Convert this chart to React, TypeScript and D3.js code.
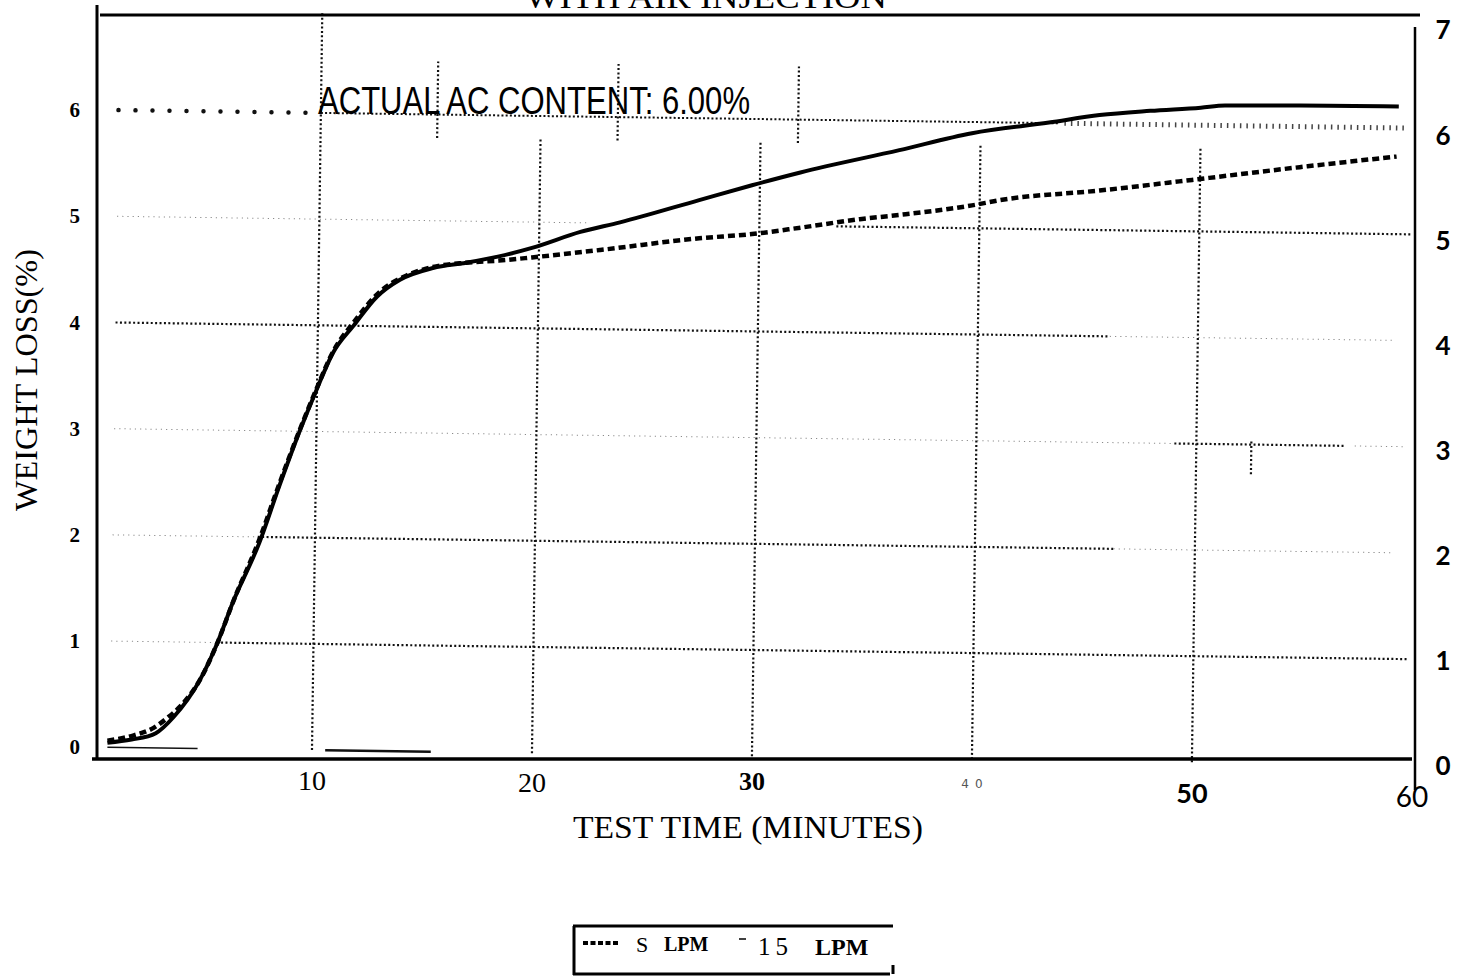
import { useEffect, useRef } from "react";
import * as d3 from "d3";

// Weight loss (%) vs test time (min)
const flow5Lpm: [number, number][] = [
  [0.7, 0.06], [1.9, 0.11], [2.8, 0.18], [3.4, 0.27], [4.0, 0.38], [4.9, 0.63],
  [5.7, 0.98], [6.4, 1.36], [7.6, 1.95], [8.5, 2.47], [9.45, 2.99], [10.2, 3.37],
  [10.95, 3.72], [11.9, 4.0], [13.1, 4.29], [14.3, 4.44], [15.5, 4.52], [17.0, 4.56],
  [18.5, 4.58], [20, 4.61], [23.1, 4.68], [27.6, 4.79], [30, 4.83], [32.2, 4.89],
  [34.9, 4.97], [36.7, 5.01], [40, 5.1], [41.3, 5.15], [45.8, 5.24], [50, 5.34],
  [54.9, 5.46], [59.3, 5.56],
];
const flow15Lpm: [number, number][] = [
  [0.7, 0.04], [1.8, 0.07], [2.9, 0.13], [3.7, 0.28], [4.9, 0.63], [5.7, 0.98],
  [6.4, 1.36], [7.6, 1.92], [8.5, 2.45], [9.45, 2.98], [10.2, 3.36], [10.95, 3.71],
  [11.9, 3.97], [12.95, 4.24], [14.0, 4.4], [15.5, 4.51], [17.0, 4.56], [18.5, 4.62],
  [20, 4.7], [22.2, 4.85], [24, 4.94], [27.6, 5.15], [30, 5.29], [32.2, 5.41],
  [36.7, 5.62], [40, 5.78], [43.5, 5.88], [45.8, 5.95], [48.1, 5.99], [50.4, 6.02],
  [51.5, 6.04], [54.9, 6.04], [59.4, 6.03],
];

const xTicks = [10, 20, 30, 40, 50, 60];
const yTicksLeft = [0, 1, 2, 3, 4, 5, 6];
const yTicksRight = [0, 1, 2, 3, 4, 5, 6, 7];
const acContent = 6.0;

// grid pieces as they survive in the scan: [value, from min, to min, dark?]
const hGridSegs: [number, number, number, boolean][] = [
  [5, 0.8, 22.2, false], [5, 33.5, 59.7, true],
  [4, 0.8, 46, true], [4, 46, 59, false],
  [3, 0.8, 49, false], [3, 49, 56.7, true], [3, 57.2, 59.5, false],
  [2, 0.8, 7.4, false], [2, 7.4, 46.3, true], [2, 46.3, 59, false],
  [1, 0.8, 5.8, false], [1, 5.8, 59.7, true],
];
// vertical grid: [minute, from value, to value]
const vGridSegs: [number, number, number][] = [
  [10, 0, 6.95], [20, 0, 5.8], [30, 0, 5.8], [40, 0, 5.8], [50, 0, 5.8],
  [15.3, 5.78, 6.5], [23.5, 5.78, 6.5], [31.7, 5.78, 6.5], [52.5, 2.72, 3.05],
];
const baseMarks: [number, number][] = [[0.7, 4.8], [10.6, 15.4]];

export default function App() {
  const ref = useRef<SVGSVGElement>(null);

  useEffect(() => {
    const svg = d3.select(ref.current);
    svg.selectAll("*").remove();

    const x = d3.scaleLinear().domain([0, 60]).range([92, 1412]);
    const y = d3.scaleLinear().domain([0, 7]).range([747, 3.6]);
    const yR = d3.scaleLinear().domain([0, 7]).range([766, 30]);

    // grid is slightly skewed against the frame, as in the scan
    const g = svg.append("g").attr("transform", `rotate(0.8, ${x(0)}, ${y(0)})`);

    g.selectAll("line.h").data(hGridSegs).join("line")
      .attr("x1", (d) => x(d[1])).attr("x2", (d) => x(d[2]))
      .attr("y1", (d) => y(d[0])).attr("y2", (d) => y(d[0]))
      .attr("stroke", (d) => (d[3] ? "#111" : "#8a8a8a"))
      .attr("stroke-width", (d) => (d[3] ? 2.2 : 1))
      .attr("stroke-dasharray", (d) => (d[3] ? "2,2.4" : "1.2,4"));

    g.selectAll("line.v").data(vGridSegs).join("line")
      .attr("x1", (d) => x(d[0])).attr("x2", (d) => x(d[0]))
      .attr("y1", (d) => y(d[1])).attr("y2", (d) => y(d[2]))
      .attr("stroke", "#111").attr("stroke-width", 2.2).attr("stroke-dasharray", "2,2.4");

    g.selectAll("line.b").data(baseMarks).join("line")
      .attr("x1", (d) => x(d[0])).attr("x2", (d) => x(d[1]))
      .attr("y1", y(0)).attr("y2", y(0))
      .attr("stroke", "#111").attr("stroke-width", (d, i) => (i ? 2.5 : 1.5));

    // actual AC content reference line
    g.append("line").attr("x1", x(0.8)).attr("x2", x(9.4)).attr("y1", y(acContent)).attr("y2", y(acContent))
      .attr("stroke", "#111").attr("stroke-width", 4.5).attr("stroke-linecap", "round").attr("stroke-dasharray", "0,17");
    g.append("line").attr("x1", x(10)).attr("x2", x(43.5)).attr("y1", y(acContent)).attr("y2", y(acContent))
      .attr("stroke", "#111").attr("stroke-width", 2).attr("stroke-dasharray", "2,2.2");
    g.append("line").attr("x1", x(43.8)).attr("x2", x(59.4)).attr("y1", y(acContent)).attr("y2", y(acContent))
      .attr("stroke", "#444").attr("stroke-width", 5).attr("stroke-dasharray", "1.5,5");

    // curves
    const line = d3.line<[number, number]>().x((d) => x(d[0])).y((d) => y(d[1])).curve(d3.curveMonotoneX);
    svg.append("path").datum(flow5Lpm).attr("fill", "none").attr("stroke", "#000")
      .attr("stroke-width", 4.5).attr("stroke-dasharray", "7,4").attr("d", line);
    svg.append("path").datum(flow15Lpm).attr("fill", "none").attr("stroke", "#000")
      .attr("stroke-width", 4).attr("d", line);

    // frame
    const frame = [
      [97, 5, 97, 760, 3], [92, 759, 1412, 759, 3.5], [100, 15, 1420, 15, 3], [1415, 27, 1415, 790, 2.5],
    ];
    svg.selectAll("line.f").data(frame).join("line")
      .attr("x1", (d) => d[0]).attr("y1", (d) => d[1]).attr("x2", (d) => d[2]).attr("y2", (d) => d[3])
      .attr("stroke", "#000").attr("stroke-width", (d) => d[4]);

    // x tick labels (mixed type as in the scan)
    const tickStyle: Record<number, { f: string; s: number; w: number; dy: number; fill?: string; ls?: number }> = {
      10: { f: "Liberation Serif", s: 28, w: 400, dy: 790 },
      20: { f: "Liberation Serif", s: 28, w: 400, dy: 792 },
      30: { f: "Liberation Serif", s: 26, w: 700, dy: 790 },
      40: { f: "DejaVu Sans", s: 12, w: 400, dy: 788, fill: "#555", ls: 6 },
      50: { f: "Lato", s: 27, w: 700, dy: 803 },
      60: { f: "Lato", s: 28, w: 400, dy: 807 },
    };
    svg.selectAll("text.xt").data(xTicks).join("text")
      .attr("x", (d) => x(d) + (tickStyle[d].ls ? tickStyle[d].ls! / 2 : 0)).attr("y", (d) => tickStyle[d].dy)
      .attr("text-anchor", "middle").attr("font-family", (d) => tickStyle[d].f)
      .attr("font-size", (d) => tickStyle[d].s).attr("font-weight", (d) => tickStyle[d].w)
      .attr("letter-spacing", (d) => tickStyle[d].ls || 0).attr("fill", (d) => tickStyle[d].fill || "#000")
      .text((d) => d);

    svg.selectAll("text.yl").data(yTicksLeft).join("text")
      .attr("x", 80).attr("y", (d) => y(d)).attr("dy", "0.35em").attr("text-anchor", "end")
      .attr("font-family", "Liberation Serif").attr("font-weight", 700).attr("font-size", 21)
      .text((d) => d);

    svg.selectAll("text.yr").data(yTicksRight).join("text")
      .attr("x", 1443).attr("y", (d) => yR(d)).attr("dy", "0.36em").attr("text-anchor", "middle")
      .attr("font-family", "Lato").attr("font-weight", 700).attr("font-size", 26)
      .text((d) => d);

    // titles
    svg.append("text").attr("x", 706).attr("y", 8).attr("text-anchor", "middle")
      .attr("font-family", "Liberation Serif").attr("font-size", 32)
      .attr("textLength", 362).attr("lengthAdjust", "spacingAndGlyphs").text("WITH AIR INJECTION");
    svg.append("text").attr("x", 318).attr("y", 114)
      .attr("font-family", "Liberation Sans").attr("font-size", 39)
      .attr("textLength", 432).attr("lengthAdjust", "spacingAndGlyphs").text("ACTUAL AC CONTENT: 6.00%");
    svg.append("text").attr("x", 748).attr("y", 838).attr("text-anchor", "middle")
      .attr("font-family", "Liberation Serif").attr("font-size", 31)
      .attr("textLength", 350).attr("lengthAdjust", "spacingAndGlyphs").text("TEST TIME (MINUTES)");
    svg.append("text").attr("transform", "translate(37,380) rotate(-90)").attr("text-anchor", "middle")
      .attr("font-family", "Liberation Serif").attr("font-size", 31)
      .attr("textLength", 262).attr("lengthAdjust", "spacingAndGlyphs").text("WEIGHT LOSS(%)");

    // legend
    const lg = svg.append("g");
    lg.append("path").attr("d", "M573,926H893M574,926V975M573,974H890M893,965V974")
      .attr("fill", "none").attr("stroke", "#000").attr("stroke-width", 3);
    lg.append("line").attr("x1", 583).attr("x2", 620).attr("y1", 943).attr("y2", 943)
      .attr("stroke", "#000").attr("stroke-width", 4).attr("stroke-dasharray", "5,2.5");
    lg.append("text").attr("x", 636).attr("y", 952).attr("font-family", "Liberation Serif").attr("font-size", 22).text("S");
    lg.append("text").attr("x", 664).attr("y", 951).attr("font-family", "Liberation Serif").attr("font-weight", 700)
      .attr("font-size", 20).text("LPM");
    lg.append("line").attr("x1", 739).attr("x2", 746).attr("y1", 939).attr("y2", 939).attr("stroke", "#000").attr("stroke-width", 1.5);
    lg.append("text").attr("x", 758).attr("y", 955).attr("font-family", "Liberation Serif").attr("font-size", 25)
      .attr("letter-spacing", 5).text("15");
    lg.append("text").attr("x", 815).attr("y", 955).attr("font-family", "Liberation Serif").attr("font-weight", 700)
      .attr("font-size", 24).text("LPM");
  }, []);

  return (
    <div style={{ position: "absolute", left: 0, top: 0 }}>
      <svg ref={ref} width={1467} height={976} style={{ display: "block", background: "#fff" }} />
    </div>
  );
}
